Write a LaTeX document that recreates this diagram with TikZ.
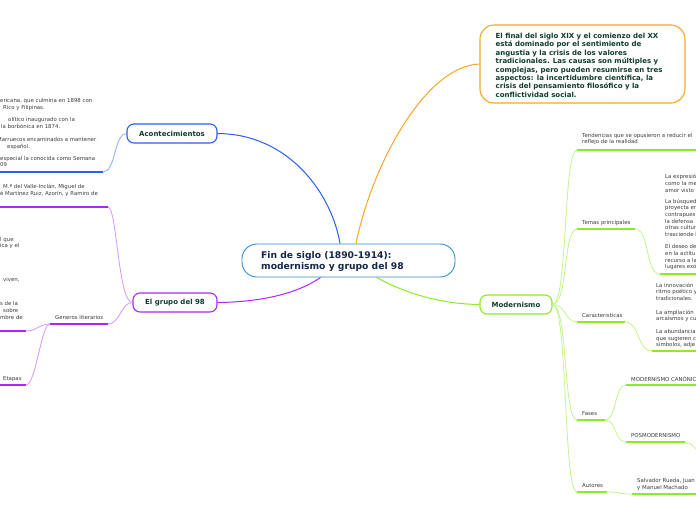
\documentclass[tikz,border=0pt]{standalone}
\usepackage{fontspec}
\setmainfont{DejaVu Sans}
\definecolor{cblue}{RGB}{40,95,240}
\definecolor{cbluel}{RGB}{140,170,255}
\definecolor{cpurp}{RGB}{170,40,245}
\definecolor{cpurpl}{RGB}{212,150,255}
\definecolor{cgreen}{RGB}{140,235,40}
\definecolor{cgreenl}{RGB}{195,245,140}
\definecolor{corange}{RGB}{247,166,40}
\definecolor{ccent}{RGB}{50,140,210}
\definecolor{thead}{RGB}{15,60,45}
\definecolor{tcent}{RGB}{20,38,75}
\definecolor{tsmall}{RGB}{60,60,60}
\begin{document}
\begin{tikzpicture}[x=1pt,y=-1pt,
  tbox/.style={draw, line width=1.1pt, rounded corners=7pt, fill=white, inner sep=0,
    font=\bfseries\fontsize{7}{8.5}\selectfont, text=thead, minimum height=19pt},
  sm/.style={font=\fontsize{5.4}{6.65}\selectfont, text=tsmall, inner sep=0,
    anchor=north west, align=left, yshift=3.2pt, execute at begin node=\strut},
  uline/.style={line width=1.6pt},
  bcurve/.style={line width=0.8pt},
  conn/.style={line width=1pt}]
\useasboundingbox (0,0) rectangle (696,520);
\fill[white] (0,0) rectangle (696,520);

% main nodes
\node[draw=ccent, line width=0.9pt, rounded corners=15pt, minimum width=213pt, minimum height=33pt, fill=white, inner sep=0] (central) at (348.5,260.5) {};
\node[font=\bfseries\fontsize{9.2}{11}\selectfont, text=tcent, align=left, anchor=west, inner sep=0] (centraltext) at (261,261.5) {Fin de siglo (1890-1914):\\modernismo y grupo del 98};

\node[draw=corange, line width=1.1pt, rounded corners=14pt, minimum width=205pt, minimum height=78pt, fill=white, inner sep=0] (intro) at (582.5,64) {};
\node[font=\bfseries\fontsize{7}{8.45}\selectfont, text=thead, align=left, anchor=west, inner sep=0] (introtext) at (495.5,65.2) {El final del siglo XIX y el comienzo del XX\\est\'a dominado por el sentimiento de\\angustia y la crisis de los valores\\tradicionales. Las causas son m\'ultiples y\\complejas, pero pueden resumirse en tres\\aspectos: la incertidumbre cient\'ifica, la\\crisis del pensamiento filos\'ofico y la\\conflictividad social.};

\node[tbox, draw=cblue, minimum width=90pt] (acon) at (172,133.5) {Acontecimientos};
\node[tbox, draw=cpurp, minimum width=84pt] (grupo) at (175,302.5) {El grupo del 98};
\node[tbox, draw=cgreen, minimum width=72pt] (moder) at (516,304.5) {Modernismo};

% main connectors
\draw[cblue, conn] (acon.east) .. controls (290,134) and (332,195) .. ([xshift=-8.5pt]central.north);
\draw[corange, conn] ([xshift=7.5pt]central.north) .. controls (372,165) and (425,66) .. (intro.west);
\draw[cpurp, conn] (grupo.east) .. controls (265,302) and (300,292) .. ([xshift=-28pt]central.south);
\draw[cgreen, conn] ([xshift=28pt]central.south) .. controls (405,293) and (440,304) .. (moder.west);

% blue branch
\coordinate (b1a) at (0,172); \coordinate (b1b) at (103,172);
\draw[cblue, uline] (b1a) -- (b1b);
\draw[cbluel, bcurve] (acon.west) .. controls (114,133.5) and (116,172) .. (b1b);
\node[sm] (ta1) at (0,101) {ericana, que culmina en 1898 con};
\node[sm] (ta2) at (3,107.5) {Rico y Filipinas.};
\node[sm] (tb1) at (8,120) {ol\'itico inaugurado con la};
\node[sm] (tb2) at (1,126.7) {la borb\'onica en 1874.};
\node[sm] (tc1) at (-3,140) {Marruecos encaminados a mantener};
\node[sm] (tc2) at (7,146.5) {espa\~nol.};
\node[sm] (td1) at (0,159) {especial la conocida como Semana\\09};

% purple branch
\coordinate (p1a) at (0,207); \coordinate (p1b) at (108,207);
\coordinate (p2a) at (50,324); \coordinate (p2b) at (108,324);
\coordinate (p3a) at (0,331); \coordinate (p3b) at (26,331);
\coordinate (p4a) at (0,385); \coordinate (p4b) at (26,385);
\draw[cpurp, uline] (p1a) -- (p1b);
\draw[cpurp, uline] (p2a) -- (p2b);
\draw[cpurp, uline] (p3a) -- (p3b);
\draw[cpurp, uline] (p4a) -- (p4b);
\draw[cpurpl, bcurve] (grupo.west) .. controls (118,302.5) and (117,207) .. (p1b);
\draw[cpurpl, bcurve] (grupo.west) .. controls (121,302.5) and (120,324) .. (p2b);
\draw[cpurpl, bcurve] (p2a) .. controls (39,324) and (37,331) .. (p3b);
\draw[cpurpl, bcurve] (p2a) .. controls (41,324) and (36,385) .. (p4b);
\node[sm] (te1) at (3,187) {M.ª del Valle-Incl\'an, Miguel de};
\node[sm] (te2) at (0,193.7) {\'e Mart\'inez Ruiz, Azor\'in, y Ramiro de};
\node[sm] (tf1) at (0,240) {l que\\ica y el};
\node[sm] (tg1) at (3,280) {viven,};
\node[sm] (th1) at (0,304) {s de la};
\node[sm] (th2) at (3,310.7) {sobre};
\node[sm] (th3) at (0,317.4) {mbre de};
\node[sm] (tgen) at (55,318) {Generos literarios};
\node[sm] (teta) at (3,379) {Etapas};

% green branch
\coordinate (g1a) at (577,150); \coordinate (g1b) at (697,150);
\coordinate (g2a) at (577,229); \coordinate (g2b) at (635,229);
\coordinate (g2c) at (660,274); \coordinate (g2d) at (697,274);
\coordinate (g3a) at (577,322); \coordinate (g3b) at (625,322);
\coordinate (g3c) at (652,351); \coordinate (g3d) at (697,351);
\coordinate (g4a) at (577,420); \coordinate (g4b) at (605,420);
\coordinate (g4c) at (626,385); \coordinate (g4d) at (697,385);
\coordinate (g4e) at (626,442); \coordinate (g4f) at (685,442);
\coordinate (g4g) at (700,451);
\coordinate (g5a) at (577,492); \coordinate (g5b) at (607,492);
\coordinate (g5c) at (632,494); \coordinate (g5d) at (697,494);
\foreach \s/\e in {g1a/g1b,g2a/g2b,g2c/g2d,g3a/g3b,g3c/g3d,g4a/g4b,g4c/g4d,g4e/g4f,g5a/g5b,g5c/g5d}
  \draw[cgreen, uline] (\s) -- (\e);
\draw[cgreenl, bcurve] (moder.east) .. controls (568,304.5) and (563,150) .. (g1a);
\draw[cgreenl, bcurve] (moder.east) .. controls (568,304.5) and (563,229) .. (g2a);
\draw[cgreenl, bcurve] (moder.east) .. controls (566,304.5) and (565,322) .. (g3a);
\draw[cgreenl, bcurve] (moder.east) .. controls (568,304.5) and (563,420) .. (g4a);
\draw[cgreenl, bcurve] (moder.east) .. controls (568,304.5) and (563,492) .. (g5a);
\draw[cgreenl, bcurve] (g2b) .. controls (650,229) and (645,274) .. (g2c);
\draw[cgreenl, bcurve] (g3b) .. controls (640,322) and (637,351) .. (g3c);
\draw[cgreenl, bcurve] (g4b) .. controls (617,420) and (614,385) .. (g4c);
\draw[cgreenl, bcurve] (g4b) .. controls (617,420) and (614,442) .. (g4e);
\draw[cgreenl, bcurve] (g4f) .. controls (692,442) and (694,450) .. (g4g);
\draw[cgreenl, bcurve] (g5b) .. controls (620,492) and (619,494) .. (g5c);

\node[sm] (tten) at (582,136) {Tendencias que se opusieron a reducir el\\reflejo de la realidad};
\node[sm] (ttem) at (582,223) {Temas principales};
\node[sm] (tt1) at (665,177.5) {La expresi\'o\\como la me\\amor visto};
\node[sm] (tt2) at (665,202) {La b\'usqued\\proyecta er\\contrapuest\\la defensa\\otras cultur\\trasciende l};
\node[sm] (tt3) at (665,247.7) {El deseo de\\en la actitu\\recurso a la\\lugares ex\'o};
\node[sm] (tcar) at (582,316) {Caracteristicas};
\node[sm] (tc1r) at (656,286) {La innovaci\'on\\ritmo po\'etico y\\tradicionales.};
\node[sm] (tc2r) at (656,312.7) {La ampliaci\'on\\arca\'ismos y cu};
\node[sm] (tc3r) at (656,332.3) {La abundancia\\que sugieren c\\s\'imbolos, adje};
\node[sm] (tfas) at (582,414) {Fases};
\node[sm] (tmc) at (631,379) {MODERNISMO CAN\'ONICO};
\node[sm] (tpos) at (631,436) {POSMODERNISMO};
\node[sm] (taut) at (582,486) {Autores};
\node[sm] (tsal) at (637,481.7) {Salvador Rueda, Juan\\y Manuel Machado};
\end{tikzpicture}
\end{document}
